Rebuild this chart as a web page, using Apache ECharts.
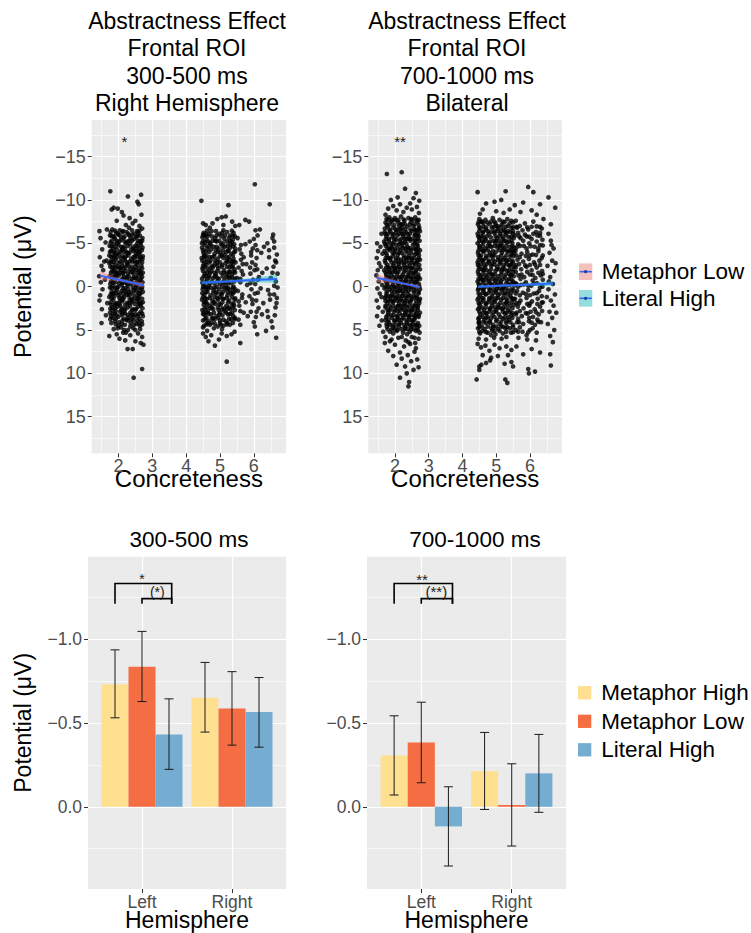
<!DOCTYPE html>
<html>
<head>
<meta charset="utf-8">
<script src="https://cdn.jsdelivr.net/npm/echarts@6/dist/echarts.min.js"></script>
<style>
html, body { margin: 0; background: #fff; }
#chart { width: 751px; height: 933px; }
</style>
</head>
<body>
<div id="chart"></div>
<script>
const FONT = '"Liberation Sans", Arial, Helvetica, sans-serif';

// axis ticks
const concreteTicks = [2, 3, 4, 5, 6];
const concreteMinor = [1.5, 2.5, 3.5, 4.5, 5.5, 6.5];
const potentialTicks = [-15, -10, -5, 0, 5, 10, 15];
const potentialMinor = [-17.5, -12.5, -7.5, -2.5, 2.5, 7.5, 12.5, 17.5];
const barTicks = [-1, -0.5, 0];
const barMinor = [-1.25, -0.75, -0.25, 0.25];
const hemispheres = ['Left', 'Right'];
const hemiPos = [1, 2];

const topTitles = ['Abstractness Effect\nFrontal ROI\n300-500 ms\nRight Hemisphere',
  'Abstractness Effect\nFrontal ROI\n700-1000 ms\nBilateral'];
const bottomTitles = ['300-500 ms', '700-1000 ms'];
const conditions = ['Metaphor High', 'Metaphor Low', 'Literal High'];
const barColors = ['#FEE090', '#F46D43', '#74ADD1'];
const fitLegend = ['Metaphor Low', 'Literal High'];

// single trials, 300-500 ms, right hemisphere
const earlyMetPts = [
[1.76,-11.0],[2.28,-10.4],[2.67,-10.6],[2.56,-9.8],[2.6,-9.5],[1.86,-9.1],[1.8,-8.9],[1.98,-9.0],[2.1,-8.6],[2.15,-8.2],[2.68,-8.3],[2.33,-7.9],[2.5,-7.6],[2.42,-7.3],[1.95,-7.6],[2.62,-7.0],[2.22,-7.1],
[1.44,-6.4],[1.47,-5.6],[1.52,-4.3],[1.45,-3.4],[1.5,-2.4],[1.55,-1.9],[1.43,-1.2],[1.48,-0.5],[1.53,0.3],[1.46,1.0],[1.44,1.6],[1.51,2.6],[1.5,4.2],[1.62,-5.1],[1.65,-3.0],[1.6,-0.8],[1.67,1.9],[1.63,3.3],[1.66,-6.6],[1.58,-2.9],
[1.82,-6.6],[2.04,-6.5],[2.31,-6.8],[2.55,-6.4],[2.7,-6.7],[1.93,-6.2],
[1.75,-5.9],[1.99,-6.1],[2.18,-5.8],[2.4,-6.0],[2.63,-5.9],[2.12,-6.3],
[1.8,-5.3],[1.9,-5.5],[2.07,-5.4],[2.27,-5.2],[2.46,-5.5],[2.58,-5.3],[2.71,-5.6],
[1.74,-4.7],[1.86,-4.9],[2.0,-4.8],[2.15,-4.6],[2.35,-4.9],[2.5,-4.7],[2.66,-4.8],[2.22,-5.0],
[1.78,-4.1],[1.95,-4.3],[2.09,-4.2],[2.24,-4.0],[2.38,-4.3],[2.54,-4.1],[2.69,-4.2],[1.88,-3.9],
[1.73,-3.6],[1.84,-3.5],[2.02,-3.7],[2.13,-3.5],[2.29,-3.6],[2.44,-3.4],[2.6,-3.7],[2.72,-3.5],
[1.79,-3.0],[1.92,-3.1],[2.05,-2.9],[2.19,-3.1],[2.33,-2.9],[2.48,-3.0],[2.64,-3.2],[2.7,-2.8],
[1.76,-2.3],[1.89,-2.5],[1.98,-2.3],[2.11,-2.4],[2.26,-2.6],[2.4,-2.3],[2.56,-2.5],[2.68,-2.4],
[1.81,-1.8],[1.94,-1.7],[2.08,-1.9],[2.21,-1.8],[2.36,-1.7],[2.51,-1.9],[2.62,-1.8],[2.72,-1.6],
[1.74,-1.2],[1.87,-1.1],[2.01,-1.3],[2.16,-1.1],[2.3,-1.2],[2.45,-1.0],[2.59,-1.3],[2.7,-1.1],
[1.78,-0.6],[1.91,-0.5],[2.06,-0.7],[2.2,-0.5],[2.34,-0.6],[2.49,-0.4],[2.63,-0.7],[2.71,-0.5],
[1.75,0.1],[1.85,-0.1],[2.0,0.0],[2.14,0.2],[2.28,-0.1],[2.42,0.1],[2.57,0.0],[2.69,0.2],
[1.8,0.6],[1.93,0.7],[2.09,0.5],[2.23,0.7],[2.37,0.6],[2.52,0.5],[2.65,0.8],[2.72,0.6],
[1.73,1.2],[1.88,1.1],[2.03,1.3],[2.17,1.2],[2.32,1.0],[2.47,1.3],[2.61,1.1],[2.7,1.4],
[1.77,1.8],[1.96,1.9],[2.1,1.7],[2.25,1.9],[2.39,1.8],[2.55,1.7],[2.67,1.9],
[1.82,2.4],[1.97,2.3],[2.12,2.5],[2.27,2.4],[2.43,2.6],[2.58,2.3],[2.71,2.5],
[1.75,3.0],[1.9,3.1],[2.05,2.9],[2.2,3.1],[2.35,3.0],[2.5,3.2],[2.66,2.9],
[1.84,3.6],[1.99,3.5],[2.16,3.7],[2.3,3.6],[2.46,3.5],[2.62,3.7],[2.72,3.4],
[1.79,4.2],[2.02,4.1],[2.19,4.4],[2.36,4.2],[2.53,4.3],[2.69,4.0],
[1.86,4.9],[2.08,4.7],[2.28,5.0],[2.44,4.8],[2.64,4.9],
[2.24,-6.3],[2.47,-6.1],[1.88,-5.7],[2.36,-5.6],[2.66,-5.1],[1.97,-5.0],[2.12,-4.4],[2.43,-4.5],[1.83,-4.4],[2.6,-4.4],[2.28,-3.9],[1.96,-3.8],[2.52,-3.8],[2.08,-3.3],[2.38,-3.2],[1.86,-3.3],[2.66,-3.4],[2.25,-2.8],[1.73,-2.7],[2.5,-2.7],[2.03,-2.1],[2.33,-2.0],[2.6,-2.1],[1.86,-2.0],[2.13,-1.5],[2.45,-1.4],[1.97,-1.5],[2.67,-1.4],[2.25,-0.9],[2.53,-0.9],[1.83,-0.9],[2.1,-0.2],[2.38,-0.3],[1.95,0.4],[2.63,0.4],[2.28,0.3],[2.15,0.9],[2.44,0.9],[1.82,0.9],[2.05,1.6],[2.33,1.5],[2.6,1.5],[1.9,2.1],[2.2,2.1],[2.48,2.0],[2.66,2.2],[2.08,2.7],[2.4,2.7],[1.83,2.7],[2.27,3.3],[2.57,3.4],[1.95,3.3],[2.12,3.9],[2.43,3.9],[2.63,4.5],[2.0,4.5],[2.22,5.3],[2.5,5.0],
[1.77,-6.3],[2.0,-6.0],[2.29,-6.1],[2.58,-6.2],[1.85,-5.8],[2.15,-5.6],[2.52,-5.7],[2.7,-5.3],[1.77,-5.1],[2.03,-5.2],[2.32,-5.3],[2.56,-5.0],[1.91,-4.6],[2.19,-4.4],[2.47,-4.3],[2.71,-4.5],[1.75,-4.0],[2.05,-4.0],[2.33,-3.9],[2.63,-3.9],[1.9,-3.6],[2.18,-3.3],[2.49,-3.5],[2.71,-3.2],[1.78,-2.8],[2.0,-2.7],[2.3,-2.4],[2.62,-2.9],[1.92,-2.2],[2.17,-2.1],[2.44,-2.0],[2.7,-2.1],[1.78,-1.6],[2.04,-1.6],[2.28,-1.5],[2.56,-1.6],[1.89,-1.3],[2.12,-0.9],[2.39,-0.9],[2.66,-0.9],[1.76,-0.3],[2.02,-0.4],[2.26,-0.3],[2.52,-0.2],[1.9,0.2],[2.17,0.5],[2.46,0.4],[2.7,0.0],[1.77,0.9],[2.0,1.0],[2.27,1.0],[2.56,1.0],[1.85,1.5],[2.14,1.5],[2.42,1.6],[2.72,1.8],[1.78,2.1],[2.05,2.2],[2.34,2.2],[2.62,2.0],[1.92,2.8],[2.17,2.8],[2.5,2.7],[2.7,3.1],[1.78,3.4],[2.09,3.3],[2.38,3.3],[2.55,3.9],[1.9,4.0],[2.27,3.9],[2.6,4.2],[1.98,4.8],[2.35,4.6],[2.17,5.0],
[1.9,-6.45],[2.14,-6.4],[2.4,-6.5],[2.62,-6.45],[1.8,-5.85],[2.06,-5.8],[2.32,-5.9],[2.56,-5.85],[1.95,-5.25],[2.18,-5.2],[2.4,-5.3],[2.64,-5.25],[1.8,-4.65],[2.08,-4.6],[2.28,-4.7],[2.56,-4.65],[1.86,-4.05],[2.16,-4.0],[2.44,-4.1],[2.6,-4.05],[1.78,-3.45],[1.96,-3.4],[2.22,-3.5],[2.54,-3.45],[1.86,-2.85],[2.12,-2.8],[2.4,-2.9],[2.56,-2.85],[1.82,-2.25],[2.06,-2.2],[2.2,-2.3],[2.5,-2.25],[1.88,-1.65],[2.14,-1.6],[2.42,-1.7],[2.66,-1.65],[1.8,-1.05],[1.94,-1.0],[2.24,-1.1],[2.52,-1.05],[1.84,-0.45],[2.12,-0.4],[2.4,-0.5],[2.58,-0.45],[1.8,0.15],[1.96,0.1],[2.2,0.2],[2.5,0.15],[1.86,0.75],[2.04,0.8],[2.3,0.7],[2.6,0.75],[1.8,1.35],[2.1,1.3],[2.38,1.4],[2.56,1.35],[1.9,1.95],[2.02,2.0],[2.32,1.9],[2.62,1.95],[1.76,2.55],[1.9,2.5],[2.2,2.6],[2.52,2.55],[1.84,3.15],[2.12,3.1],[2.42,3.2],[2.6,3.15],[1.76,3.75],[1.92,3.7],[2.24,3.8],[2.38,3.75],[1.92,4.35],[2.1,4.3],[2.46,4.4],[2.7,4.35],
[1.73,5.7],[1.95,5.5],[2.14,5.3],[2.35,5.6],[2.58,5.4],[2.7,5.8],[2.27,7.2],[2.42,7.2],[2.74,6.7],[2.2,6.2],[2.5,6.3],[2.66,6.5],[2.7,9.5],[2.45,10.5],[2.03,6.0]
];
const earlyLitPts = [
[4.45,-9.9],[5.25,-9.4],[6.03,-11.8],[6.47,-9.5],[5.05,-8.0],[5.17,-8.1],[4.92,-7.8],[5.36,-7.5],[5.75,-7.7],[5.86,-7.5],[5.57,-7.1],[6.05,-6.5],[6.18,-6.6],[4.5,-7.3],[4.58,-7.1],[4.78,-7.3],[5.1,-7.1],[5.45,-7.0],[4.7,-6.8],[6.55,-5.6],[6.6,-5.2],
[4.52,-6.2],[4.75,-6.4],[4.98,-6.1],[5.21,-6.3],[5.4,-6.2],
[4.48,-5.7],[4.63,-5.8],[4.86,-5.6],[5.04,-5.8],[5.27,-5.6],[5.44,-5.8],
[4.55,-5.1],[4.7,-5.0],[4.9,-5.2],[5.08,-5.0],[5.2,-5.2],[5.35,-5.1],
[4.47,-4.5],[4.62,-4.4],[4.81,-4.6],[4.96,-4.4],[5.14,-4.6],[5.3,-4.5],[5.45,-4.4],
[4.51,-3.9],[4.68,-4.0],[4.84,-3.8],[5.01,-3.9],[5.18,-4.0],[5.33,-3.8],[5.42,-4.0],
[4.46,-3.3],[4.6,-3.2],[4.77,-3.4],[4.93,-3.2],[5.1,-3.3],[5.26,-3.4],[5.4,-3.2],
[4.53,-2.7],[4.69,-2.8],[4.85,-2.6],[5.0,-2.8],[5.16,-2.7],[5.31,-2.6],[5.46,-2.8],
[4.48,-2.1],[4.64,-2.0],[4.79,-2.2],[4.95,-2.1],[5.12,-1.9],[5.28,-2.2],[5.43,-2.0],
[4.55,-1.5],[4.71,-1.6],[4.88,-1.4],[5.03,-1.6],[5.2,-1.5],[5.36,-1.4],
[4.47,-0.9],[4.62,-0.8],[4.8,-1.0],[4.97,-0.9],[5.13,-0.8],[5.29,-1.0],[5.44,-0.9],
[4.52,-0.3],[4.67,-0.2],[4.83,-0.4],[5.0,-0.3],[5.17,-0.2],[5.33,-0.4],
[4.49,0.3],[4.65,0.2],[4.81,0.4],[4.98,0.3],[5.14,0.2],[5.3,0.4],[5.45,0.3],
[4.54,0.9],[4.72,1.0],[4.89,0.8],[5.05,0.9],[5.22,1.0],[5.38,0.8],
[4.47,1.5],[4.61,1.4],[4.78,1.6],[4.94,1.5],[5.11,1.4],[5.27,1.6],[5.43,1.5],
[4.52,2.1],[4.69,2.2],[4.86,2.0],[5.02,2.1],[5.19,2.2],[5.35,2.0],
[4.48,2.7],[4.64,2.8],[4.8,2.6],[4.96,2.7],[5.13,2.8],[5.3,2.6],[5.44,2.7],
[4.55,3.3],[4.73,3.2],[4.9,3.4],[5.07,3.3],[5.24,3.2],[5.39,3.4],
[4.5,3.9],[4.66,4.0],[4.84,3.8],[5.0,3.9],[5.17,4.0],[5.33,3.8],
[4.53,4.5],[4.7,4.4],[4.93,4.6],[5.1,4.5],[5.29,4.4],
[4.58,-6.0],[4.9,-5.9],[5.13,-5.5],[4.78,-5.3],[5.3,-4.9],[4.55,-4.8],[4.88,-4.2],[5.24,-4.2],[4.6,-3.6],[5.05,-3.6],[4.72,-3.0],[5.2,-3.0],[4.5,-2.4],[4.92,-2.4],[5.38,-2.4],[4.75,-1.8],[5.08,-1.2],[4.58,-1.2],[5.4,-1.7],[4.92,-0.6],[5.25,-0.6],[4.56,0.0],[4.9,0.0],[5.22,0.6],[4.63,0.6],[5.35,1.2],[4.84,1.2],[4.58,1.8],[5.07,1.8],[4.76,2.4],[5.26,2.4],[4.6,3.0],[5.0,3.0],[5.36,3.0],[4.8,3.6],[4.63,4.2],[5.22,4.2],[5.06,4.9],
[4.5,-6.0],[4.68,-6.1],[5.07,-6.2],[5.3,-5.9],[4.6,-5.4],[4.98,-5.3],[5.38,-5.4],[4.47,-5.0],[4.73,-4.8],[5.03,-4.9],[5.22,-4.7],[5.42,-4.9],[4.5,-4.2],[4.74,-4.3],[5.08,-4.2],[5.38,-3.6],[4.53,-3.6],[4.83,-3.5],[5.12,-3.7],[5.3,-3.1],[4.48,-3.0],[4.86,-3.0],[5.06,-2.5],[5.4,-2.9],[4.6,-2.5],[4.78,-2.4],[5.2,-2.3],[4.92,-1.8],[4.5,-1.8],[4.68,-1.3],[5.12,-1.6],[5.3,-1.7],[4.52,-1.2],[4.85,-1.2],[5.25,-1.2],[5.42,-0.6],[4.58,-0.6],[4.76,-0.6],[5.08,-0.5],[5.4,0.0],[4.5,0.0],[4.73,0.1],[5.06,0.0],[5.24,0.1],[4.58,0.6],[4.9,0.6],[5.09,0.6],[5.42,0.6],[4.5,1.2],[4.7,1.3],[5.0,1.2],[5.2,1.3],[4.53,1.8],[4.83,1.8],[5.24,1.8],[5.42,2.2],[4.6,2.4],[4.94,2.4],[5.12,2.5],[5.37,2.4],[4.52,3.0],[4.82,3.0],[5.18,3.0],[5.44,3.6],[4.6,3.6],[4.95,3.6],[5.27,3.7],[4.75,4.2],[5.0,4.2],[5.38,4.2],[4.5,4.7],[4.82,4.8],
[4.62,-6.45],[4.88,-6.4],[5.1,-6.5],[5.35,-6.45],[4.55,-5.85],[4.76,-5.8],[5.15,-5.9],[5.38,-5.85],[4.5,-5.25],[4.66,-5.2],[4.86,-5.3],[5.3,-5.25],[4.66,-4.65],[4.9,-4.6],[5.08,-4.7],[5.38,-4.65],[4.58,-4.05],[4.94,-4.0],[5.25,-4.1],[5.45,-4.05],[4.54,-3.45],[4.7,-3.4],[5.0,-3.5],[5.2,-3.45],[4.6,-2.85],[4.92,-2.8],[5.22,-2.9],[5.36,-2.85],[4.55,-2.25],[4.72,-2.2],[5.05,-2.3],[5.35,-2.25],[4.62,-1.65],[4.84,-1.6],[5.26,-1.7],[5.45,-1.65],[4.68,-1.05],[4.92,-1.0],[5.2,-1.1],[5.36,-1.05],[4.48,-0.45],[4.7,-0.4],[5.12,-0.5],[5.25,-0.45],[4.6,0.15],[4.84,0.1],[5.2,0.2],[5.38,0.15],[4.48,0.75],[4.8,0.7],[5.02,0.8],[5.32,0.75],[4.56,1.35],[4.92,1.3],[5.08,1.4],[5.45,1.35],[4.62,1.95],[4.78,1.9],[4.98,2.0],[5.4,1.95],[4.55,2.55],[4.72,2.5],[5.06,2.6],[5.22,2.55],[4.5,3.15],[4.66,3.1],[4.98,3.2],[5.3,3.15],[4.56,3.75],[4.76,3.7],[5.1,3.8],[5.44,3.75],[4.6,4.35],[4.85,4.3],[5.02,4.4],[5.2,4.35],
[5.52,-5.6],[5.58,-4.3],[5.62,-3.1],[5.55,-2.2],[5.68,-1.4],[5.6,-0.5],[5.53,0.5],[5.65,1.3],[5.57,2.2],[5.7,3.0],[5.55,3.8],[5.63,-3.8],[5.5,-1.0],[5.6,4.4],
[5.62,-4.8],[5.67,-2.6],[5.6,-0.9],[5.66,0.9],[5.6,2.8],[5.64,-1.8],[5.55,1.7],[5.7,-3.4],
[5.75,-4.9],[5.78,-2.6],[5.8,-0.2],[5.76,1.8],[5.82,3.4],
[5.88,-5.2],[5.92,-3.6],[5.95,-2.8],[5.9,-1.5],[5.98,-0.8],[5.93,0.3],[5.87,1.1],[5.96,2.0],[5.91,2.9],[6.0,4.1],[5.97,-4.4],[6.02,-1.9],
[5.92,-4.0],[5.9,-0.4],[5.95,1.5],[5.89,-2.2],[6.05,-2.5],[6.1,-4.2],[6.03,0.8],[6.08,2.9],[6.12,-0.8],[6.0,-5.5],
[6.05,-4.8],[6.08,-3.3],[6.1,-2.0],[6.04,-0.3],[6.12,0.7],[6.07,1.6],[6.14,2.5],[6.06,3.5],[6.1,5.5],[6.11,-5.9],[6.15,-1.1],[6.03,4.6],
[6.22,-3.9],[6.25,-1.6],[6.2,0.2],[6.28,1.9],[6.24,3.2],[6.3,-4.6],
[6.4,-5.0],[6.45,-3.4],[6.38,-2.1],[6.5,-1.0],[6.42,0.4],[6.48,1.5],[6.4,2.8],[6.52,4.0],[6.36,5.1],[6.6,-4.5],[6.63,-3.0],[6.58,-2.3],[6.65,-0.6],[6.6,0.9],[6.67,1.9],[6.62,3.3],[6.55,4.7],[6.66,5.9],[6.7,-1.5],[6.68,-3.7],[6.57,-6.0],[6.64,2.4],[6.7,0.1],
[6.45,-4.2],[6.55,-1.6],[6.47,0.9],[6.42,3.5],[6.6,-0.1],[6.68,1.3],[6.66,-2.8],
[4.5,5.4],[4.58,5.8],[4.74,5.6],[4.85,6.8],[4.97,6.1],[5.05,5.4],[5.2,5.7],[5.34,5.5],[5.6,6.5],[5.2,8.65],[4.66,6.3],[5.43,5.2],[4.62,5.1]
];

// single trials, 700-1000 ms, bilateral
const lateMetPts = [
[1.76,-13.0],[2.2,-13.2],[2.3,-11.3],[2.08,-10.3],[2.55,-10.2],[2.62,-10.8],[1.88,-10.0],[2.45,-9.6],[2.72,-9.9],[1.95,-9.3],[2.15,-9.5],[2.35,-9.1],[2.65,-9.2],[1.8,-9.0],[2.05,-8.8],[2.5,-8.9],[2.25,-8.6],[1.72,-8.3],[2.71,-8.5],
[1.47,-5.0],[1.5,-4.1],[1.46,-3.3],[1.53,-2.7],[1.49,-1.9],[1.45,-1.3],[1.52,-0.6],[1.48,0.2],[1.55,0.8],[1.46,1.6],[1.51,2.4],[1.47,3.4],[1.54,4.5],[1.6,-6.1],[1.63,-3.8],[1.58,-2.3],[1.62,-0.2],[1.6,1.2],[1.64,2.9],[1.57,-4.6],[1.61,3.9],[1.65,5.2],
[1.83,-8.0],[2.0,-7.9],[2.18,-8.1],[2.4,-7.9],[2.6,-8.0],
[1.72,-7.4],[1.9,-7.5],[2.1,-7.4],[2.28,-7.6],[2.47,-7.4],[2.67,-7.5],
[1.78,-6.9],[1.95,-6.8],[2.12,-7.0],[2.22,-6.8],[2.36,-6.9],[2.55,-7.0],[2.72,-6.8],
[1.7,-6.3],[1.86,-6.4],[2.03,-6.3],[2.19,-6.4],[2.33,-6.3],[2.5,-6.4],[2.63,-6.3],[2.74,-6.4],
[1.75,-5.8],[1.92,-5.7],[2.07,-5.9],[2.25,-5.8],[2.41,-5.7],[2.58,-5.9],[2.7,-5.8],
[1.68,-5.2],[1.82,-5.3],[1.98,-5.2],[2.14,-5.3],[2.3,-5.2],[2.46,-5.3],[2.61,-5.2],[2.73,-5.3],
[1.73,-4.7],[1.89,-4.6],[2.04,-4.8],[2.2,-4.7],[2.37,-4.6],[2.53,-4.8],[2.67,-4.7],
[1.69,-4.1],[1.84,-4.2],[2.0,-4.1],[2.16,-4.2],[2.32,-4.1],[2.48,-4.2],[2.63,-4.1],[2.74,-4.2],
[1.76,-3.6],[1.93,-3.5],[2.09,-3.7],[2.26,-3.6],[2.42,-3.5],[2.58,-3.7],[2.71,-3.6],
[1.7,-3.0],[1.86,-3.1],[2.02,-3.0],[2.18,-3.1],[2.34,-3.0],[2.5,-3.1],[2.65,-3.0],[2.74,-3.1],
[1.78,-2.5],[1.95,-2.4],[2.11,-2.6],[2.28,-2.5],[2.44,-2.4],[2.6,-2.6],[2.72,-2.5],
[1.68,-1.9],[1.83,-2.0],[1.99,-1.9],[2.15,-2.0],[2.31,-1.9],[2.47,-2.0],[2.62,-1.9],[2.74,-2.0],
[1.74,-1.4],[1.9,-1.3],[2.06,-1.5],[2.23,-1.4],[2.39,-1.3],[2.55,-1.5],[2.69,-1.4],
[1.7,-0.8],[1.85,-0.9],[2.01,-0.8],[2.17,-0.9],[2.33,-0.8],[2.49,-0.9],[2.64,-0.8],[2.74,-0.9],
[1.77,-0.3],[1.94,-0.2],[2.1,-0.4],[2.27,-0.3],[2.43,-0.2],[2.59,-0.4],[2.71,-0.3],
[1.69,0.2],[1.84,0.3],[2.0,0.2],[2.16,0.3],[2.32,0.2],[2.48,0.3],[2.63,0.2],[2.74,0.3],
[1.75,0.8],[1.91,0.9],[2.07,0.7],[2.24,0.8],[2.4,0.9],[2.56,0.7],[2.7,0.8],
[1.7,1.3],[1.86,1.4],[2.02,1.3],[2.18,1.4],[2.34,1.3],[2.5,1.4],[2.65,1.3],[2.74,1.4],
[1.78,1.9],[1.95,1.8],[2.12,2.0],[2.29,1.9],[2.45,1.8],[2.61,2.0],[2.72,1.9],
[1.72,2.4],[1.88,2.5],[2.04,2.4],[2.2,2.5],[2.36,2.4],[2.52,2.5],[2.67,2.4],
[1.8,3.0],[1.97,2.9],[2.14,3.1],[2.31,3.0],[2.47,2.9],[2.63,3.1],[2.74,3.0],
[1.74,3.5],[1.91,3.6],[2.08,3.5],[2.25,3.6],[2.42,3.5],[2.58,3.6],[2.7,3.5],
[1.82,4.1],[2.0,4.0],[2.17,4.2],[2.35,4.1],[2.53,4.0],[2.68,4.2],
[1.76,4.6],[1.94,4.7],[2.12,4.6],[2.3,4.7],[2.48,4.6],[2.66,4.7],
[1.85,5.2],[2.05,5.1],[2.24,5.3],[2.44,5.2],[2.62,5.1],[2.73,5.3],
[1.92,-7.7],[2.3,-7.2],[2.58,-6.6],[1.8,-6.1],[2.12,-6.1],[2.44,-6.1],[1.98,-5.5],[2.35,-5.5],[2.67,-5.5],[1.77,-4.9],[2.12,-4.9],[2.45,-4.4],[1.92,-4.4],[2.68,-4.4],[2.2,-3.9],[1.8,-3.3],[2.4,-3.3],[2.1,-2.8],[2.66,-2.8],[1.9,-2.2],[2.23,-2.2],[2.55,-2.2],[1.8,-1.7],[2.1,-1.7],[2.47,-1.6],[1.97,-1.1],[2.3,-1.1],[2.63,-1.1],[1.8,-0.6],[2.15,-0.5],[2.5,-0.6],[1.9,0.0],[2.24,0.0],[2.57,0.0],[2.08,0.5],[2.4,0.5],[1.8,1.1],[2.14,1.1],[2.47,1.1],[1.96,1.6],[2.3,1.6],[2.62,1.6],[1.84,2.2],[2.16,2.2],[2.53,2.2],[2.0,2.7],[2.33,2.8],[2.68,2.7],[1.88,3.3],[2.22,3.3],[2.56,3.3],[2.06,3.8],[2.42,3.8],[1.75,4.3],[2.27,4.4],[2.6,4.4],[2.0,4.9],[2.38,4.9],
[1.75,-7.8],[2.1,-7.7],[2.48,-7.8],[2.7,-7.7],[1.85,-7.2],[2.17,-7.2],[2.58,-7.2],[1.7,-6.7],[2.02,-6.6],[2.3,-6.6],[2.7,-6.6],[1.92,-6.1],[2.27,-6.1],[2.6,-6.0],[1.73,-5.5],[2.18,-5.5],[2.5,-5.5],[1.89,-5.0],[2.25,-5.0],[2.58,-5.0],[1.78,-4.4],[2.1,-4.4],[2.3,-4.4],[2.57,-4.4],[1.93,-3.9],[2.38,-3.9],[2.7,-3.9],[1.73,-3.3],[2.03,-3.3],[2.27,-3.3],[2.58,-3.3],[1.9,-2.8],[2.28,-2.8],[2.48,-2.8],[1.74,-2.2],[2.05,-2.2],[2.38,-2.2],[2.68,-2.2],[1.93,-1.7],[2.27,-1.7],[2.62,-1.7],[1.75,-1.1],[2.13,-1.1],[2.47,-1.1],[2.7,-1.1],[1.92,-0.6],[2.3,-0.6],[2.65,-0.6],[1.73,0.0],[2.07,0.0],[2.4,0.0],[2.72,0.0],[1.9,0.5],[2.23,0.5],[2.58,0.5],[1.73,1.1],[1.97,1.1],[2.3,1.1],[2.63,1.1],[1.8,1.6],[2.13,1.6],[2.47,1.6],[2.72,1.6],[1.95,2.2],[2.3,2.2],[2.68,2.2],[1.78,2.7],[2.15,2.7],[2.5,2.7],[1.96,3.3],[2.38,3.3],[2.7,3.3],[1.8,3.8],[2.2,3.8],[2.58,3.8],[1.93,4.4],[2.12,4.3],[2.44,4.4],[2.72,4.5],[1.78,4.9],[2.2,4.9],[2.55,4.9],[1.95,5.4],[2.36,5.5],
[1.8,-7.7],[2.02,-7.65],[2.26,-7.75],[2.52,-7.7],[2.64,-7.65],[1.76,-7.15],[1.98,-7.1],[2.22,-7.2],[2.44,-7.15],[2.7,-7.1],[1.84,-6.6],[2.08,-6.55],[2.16,-6.65],[2.46,-6.6],[2.62,-6.55],[1.72,-6.05],[1.96,-6.0],[2.2,-6.1],[2.38,-6.05],[2.68,-6.0],[1.82,-5.5],[2.04,-5.45],[2.28,-5.55],[2.42,-5.5],[2.6,-5.45],[1.7,-4.95],[1.94,-4.9],[2.18,-5.0],[2.34,-4.95],[2.66,-4.9],[1.84,-4.4],[2.0,-4.35],[2.24,-4.45],[2.4,-4.4],[2.62,-4.35],[1.74,-3.85],[1.98,-3.8],[2.12,-3.9],[2.48,-3.85],[2.64,-3.8],[1.86,-3.3],[2.1,-3.25],[2.34,-3.35],[2.5,-3.3],[2.7,-3.25],[1.72,-2.75],[1.98,-2.7],[2.2,-2.8],[2.4,-2.75],[2.56,-2.7],[1.8,-2.2],[2.0,-2.15],[2.12,-2.25],[2.32,-2.2],[2.5,-2.15],[1.72,-1.65],[1.86,-1.6],[2.02,-1.7],[2.4,-1.65],[2.56,-1.6],[1.82,-1.1],[2.05,-1.05],[2.2,-1.15],[2.38,-1.1],[2.56,-1.05],[1.74,-0.55],[2.04,-0.5],[2.22,-0.6],[2.4,-0.55],[2.58,-0.5],[1.8,0.0],[1.98,0.05],[2.14,-0.05],[2.32,0.0],[2.48,0.05],[1.76,0.55],[1.98,0.6],[2.14,0.5],[2.32,0.55],[2.7,0.6],[1.88,1.1],[2.06,1.15],[2.22,1.05],[2.4,1.1],[2.56,1.15],[1.72,1.65],[1.9,1.7],[2.06,1.6],[2.22,1.65],[2.38,1.7],[1.72,2.2],[2.08,2.25],[2.24,2.15],[2.42,2.2],[2.6,2.25],[1.84,2.75],[2.08,2.8],[2.26,2.7],[2.42,2.75],[2.6,2.8],[1.78,3.3],[2.06,3.35],[2.3,3.25],[2.46,3.3],[2.62,3.35],[1.72,3.85],[1.98,3.9],[2.12,3.8],[2.34,3.85],[2.5,3.9],[1.84,4.4],[2.02,4.45],[2.36,4.35],[2.52,4.4],[2.64,4.45],[1.9,4.95],[2.08,5.0],[2.3,4.9],[2.48,4.95],[2.68,5.0],
[1.72,5.8],[1.9,6.1],[2.1,5.9],[2.32,6.2],[2.5,5.8],[2.7,6.0],[2.0,6.7],[2.27,6.9],[2.45,6.6],[2.62,7.1],[1.8,7.4],[2.15,7.6],[2.38,7.9],[2.58,7.5],[2.2,8.3],[2.48,8.6],[2.66,8.4],[2.05,9.0],[2.3,9.2],[2.55,9.6],[2.35,10.0],[2.15,10.5],[2.42,11.0],[2.4,11.5],[2.7,9.3],[1.95,8.0],[1.7,6.5],[2.6,6.5],[2.2,5.8],[2.58,5.9],[1.85,6.3],[2.4,6.4]
];
const lateLitPts = [
[4.45,-10.9],[5.28,-11.0],[5.95,-11.5],[6.1,-10.9],[6.55,-10.3],[6.75,-9.1],[4.7,-9.6],[4.95,-9.8],[5.15,-10.0],[5.55,-9.4],[5.8,-9.7],[6.3,-9.5],[4.6,-8.9],[5.0,-8.7],[5.4,-8.9],[5.72,-8.6],[6.05,-8.8],[6.2,-8.3],[4.52,-8.4],[5.22,-8.5],[6.4,-7.8],[6.62,-7.2],
[4.5,-7.8],[4.68,-7.7],[4.9,-7.9],[5.1,-7.7],[5.33,-7.8],
[4.46,-7.2],[4.62,-7.3],[4.8,-7.2],[4.98,-7.3],[5.17,-7.2],[5.4,-7.3],
[4.52,-6.7],[4.7,-6.6],[4.87,-6.8],[5.05,-6.7],[5.23,-6.6],[5.45,-6.8],
[4.45,-6.1],[4.6,-6.2],[4.78,-6.1],[4.95,-6.2],[5.12,-6.1],[5.3,-6.2],[5.5,-6.1],
[4.5,-5.6],[4.67,-5.5],[4.84,-5.7],[5.02,-5.6],[5.2,-5.5],[5.38,-5.7],[5.52,-5.6],
[4.45,-5.0],[4.62,-5.1],[4.79,-5.0],[4.97,-5.1],[5.14,-5.0],[5.32,-5.1],[5.48,-5.0],
[4.51,-4.5],[4.69,-4.4],[4.86,-4.6],[5.04,-4.5],[5.22,-4.4],[5.4,-4.6],[5.53,-4.5],
[4.46,-3.9],[4.63,-4.0],[4.81,-3.9],[4.99,-4.0],[5.17,-3.9],[5.34,-4.0],[5.5,-3.9],
[4.52,-3.4],[4.7,-3.3],[4.88,-3.5],[5.06,-3.4],[5.24,-3.3],[5.42,-3.5],
[4.45,-2.8],[4.61,-2.9],[4.78,-2.8],[4.96,-2.9],[5.13,-2.8],[5.31,-2.9],[5.49,-2.8],
[4.5,-2.3],[4.67,-2.2],[4.85,-2.4],[5.03,-2.3],[5.21,-2.2],[5.39,-2.4],[5.53,-2.3],
[4.46,-1.7],[4.63,-1.8],[4.8,-1.7],[4.98,-1.8],[5.16,-1.7],[5.33,-1.8],[5.5,-1.7],
[4.53,-1.2],[4.71,-1.1],[4.89,-1.3],[5.07,-1.2],[5.25,-1.1],[5.43,-1.3],
[4.45,-0.6],[4.61,-0.7],[4.79,-0.6],[4.97,-0.7],[5.14,-0.6],[5.32,-0.7],[5.5,-0.6],
[4.5,-0.1],[4.68,0.0],[4.86,-0.2],[5.04,-0.1],[5.22,0.0],[5.4,-0.2],[5.53,-0.1],
[4.46,0.4],[4.63,0.5],[4.81,0.4],[4.99,0.5],[5.17,0.4],[5.35,0.5],[5.51,0.4],
[4.52,1.0],[4.7,0.9],[4.88,1.1],[5.06,1.0],[5.24,0.9],[5.42,1.1],
[4.45,1.5],[4.62,1.6],[4.79,1.5],[4.97,1.6],[5.15,1.5],[5.33,1.6],[5.5,1.5],
[4.51,2.1],[4.69,2.0],[4.87,2.2],[5.05,2.1],[5.23,2.0],[5.41,2.2],[5.53,2.1],
[4.46,2.6],[4.64,2.7],[4.82,2.6],[5.0,2.7],[5.18,2.6],[5.36,2.7],
[4.53,3.2],[4.71,3.1],[4.89,3.3],[5.08,3.2],[5.26,3.1],[5.45,3.3],
[4.47,3.7],[4.65,3.8],[4.84,3.7],[5.02,3.8],[5.2,3.7],[5.38,3.8],
[4.5,4.3],[4.7,4.2],[4.9,4.4],[5.1,4.3],[5.3,4.2],[5.5,4.4],
[4.46,4.8],[4.66,4.9],[4.86,4.8],[5.06,4.9],[5.27,4.8],
[4.52,5.4],[4.75,5.3],[4.98,5.5],[5.2,5.4],[5.44,5.3],
[4.48,6.0],[4.7,6.1],[4.94,5.9],[5.16,6.0],
[4.58,-7.5],[5.0,-7.0],[4.75,-6.4],[5.35,-6.4],[4.55,-5.8],[4.92,-5.3],[5.28,-5.3],[4.75,-4.7],[5.12,-4.7],[4.58,-4.2],[5.45,-4.2],[4.95,-3.6],[4.62,-3.1],[5.2,-3.1],[4.88,-2.6],[5.45,-2.6],[4.57,-2.0],[5.1,-2.0],[4.78,-1.4],[5.38,-1.5],[4.6,-0.9],[5.0,-0.9],[4.82,-0.4],[5.3,-0.4],[4.57,0.2],[5.1,0.2],[4.78,0.7],[5.45,0.7],[4.58,1.3],[5.0,1.3],[4.76,1.8],[5.3,1.8],[4.58,2.4],[5.1,2.4],[4.8,2.9],[5.4,2.9],[4.6,3.5],[5.12,3.5],[4.8,4.0],[4.58,4.6],[5.15,4.6],[4.88,5.1],
[4.55,-7.5],[4.85,-7.5],[5.2,-7.5],[5.45,-7.6],[4.62,-6.9],[4.92,-6.9],[5.15,-6.9],[5.35,-7.0],[4.5,-6.4],[4.95,-6.4],[5.15,-6.4],[5.5,-6.4],[4.72,-5.8],[5.1,-5.8],[5.3,-5.9],[4.5,-5.3],[4.7,-5.3],[5.08,-5.3],[5.45,-5.3],[4.6,-4.7],[4.95,-4.7],[5.3,-4.7],[4.48,-4.2],[4.75,-4.2],[5.1,-4.2],[5.3,-4.2],[4.55,-3.6],[4.8,-3.6],[5.15,-3.6],[5.45,-3.7],[4.48,-3.1],[4.9,-3.1],[5.05,-3.1],[5.38,-3.1],[4.55,-2.6],[4.72,-2.6],[5.1,-2.6],[5.3,-2.6],[4.48,-2.0],[4.85,-2.0],[5.25,-2.0],[5.48,-2.0],[4.58,-1.4],[4.97,-1.4],[5.15,-1.4],[5.52,-1.2],[4.48,-0.9],[4.8,-0.9],[5.2,-0.9],[5.38,-0.9],[4.6,-0.4],[5.05,-0.4],[5.48,-0.4],[4.48,0.2],[4.8,0.2],[5.3,0.2],[4.6,0.7],[5.0,0.7],[5.25,0.7],[4.48,1.3],[4.8,1.3],[5.2,1.3],[5.45,1.3],[4.55,1.8],[4.95,1.8],[5.45,1.8],[4.7,2.4],[4.95,2.4],[5.3,2.4],[4.5,2.9],[5.0,2.9],[5.2,2.9],[4.75,3.5],[5.35,3.5],[4.5,4.0],[5.0,4.0],[5.3,4.0],[4.75,4.6],[5.0,4.6],[5.4,4.8],[4.6,5.1],[5.1,5.1],[4.85,5.6],[5.3,5.8],
[4.48,-7.45],[4.74,-7.4],[4.95,-7.5],[5.25,-7.45],[5.5,-7.4],[4.5,-6.9],[4.7,-6.85],[5.05,-6.95],[5.28,-6.9],[5.5,-6.85],[4.62,-6.35],[4.85,-6.3],[5.05,-6.4],[5.25,-6.35],[5.42,-6.3],[4.47,-5.8],[4.62,-5.75],[4.98,-5.85],[5.2,-5.8],[5.45,-5.75],[4.58,-5.25],[4.82,-5.2],[5.0,-5.3],[5.22,-5.25],[5.38,-5.2],[4.5,-4.7],[4.82,-4.65],[5.05,-4.75],[5.18,-4.7],[5.48,-4.65],[4.62,-4.15],[4.9,-4.1],[5.2,-4.2],[5.4,-4.15],[5.52,-4.1],[4.48,-3.6],[4.7,-3.55],[4.9,-3.65],[5.3,-3.6],[5.52,-3.55],[4.58,-3.05],[4.78,-3.0],[5.12,-3.1],[5.3,-3.05],[5.48,-3.0],[4.46,-2.5],[4.65,-2.45],[4.95,-2.55],[5.22,-2.5],[5.4,-2.45],[4.62,-1.95],[4.72,-1.9],[5.02,-2.0],[5.18,-1.95],[5.38,-1.9],[4.48,-1.4],[4.68,-1.35],[4.88,-1.45],[5.28,-1.4],[5.45,-1.35],[4.55,-0.85],[4.7,-0.8],[4.9,-0.9],[5.1,-0.85],[5.45,-0.8],[4.48,-0.3],[4.7,-0.25],[4.95,-0.35],[5.15,-0.3],[5.38,-0.25],[4.62,0.25],[4.92,0.3],[5.02,0.2],[5.2,0.25],[5.45,0.3],[4.48,0.8],[4.68,0.85],[4.9,0.75],[5.12,0.8],[5.35,0.85],[4.62,1.35],[4.88,1.4],[5.05,1.3],[5.3,1.35],[5.52,1.4],[4.48,1.9],[4.7,1.95],[4.88,1.85],[5.12,1.9],[5.32,1.95],[4.5,2.45],[4.82,2.5],[5.05,2.4],[5.2,2.45],[5.48,2.5],[4.62,3.0],[4.7,3.05],[4.92,2.95],[5.3,3.0],[5.48,3.05],[4.5,3.55],[4.7,3.6],[4.95,3.5],[5.25,3.55],[5.48,3.6],[4.62,4.1],[4.82,4.15],[5.15,4.05],[5.42,4.1],[4.48,4.15],[4.5,4.65],[4.92,4.7],[5.2,4.6],[5.32,4.65],[5.5,4.7],[4.5,5.2],[4.7,5.25],[4.95,5.15],[5.3,5.2],[5.5,5.25],
[5.58,-7.6],[5.85,-7.3],[6.1,-7.5],[6.3,-6.9],
[5.62,-6.8],[5.78,-6.5],[5.95,-6.6],[6.18,-6.3],[6.35,-6.7],
[5.56,-5.9],[5.72,-5.6],[5.9,-5.8],[6.05,-5.5],[6.22,-5.9],[6.37,-5.4],
[5.65,-4.9],[5.82,-4.7],[5.98,-5.0],[6.14,-4.6],[6.3,-4.8],
[5.57,-4.1],[5.75,-3.8],[5.92,-4.0],[6.08,-3.7],[6.25,-4.1],[6.38,-3.6],
[5.63,-3.1],[5.8,-2.9],[5.97,-3.2],[6.12,-2.8],[6.28,-3.0],
[5.58,-2.2],[5.74,-2.0],[5.9,-2.3],[6.05,-1.9],[6.2,-2.2],[6.36,-1.8],
[5.66,-1.3],[5.83,-1.1],[6.0,-1.4],[6.16,-1.0],[6.32,-1.3],
[5.57,-0.4],[5.73,-0.2],[5.88,-0.5],[6.04,-0.1],[6.21,-0.4],[6.37,0.0],
[5.62,0.5],[5.79,0.7],[5.95,0.4],[6.11,0.8],[6.27,0.5],
[5.56,1.4],[5.72,1.6],[5.9,1.3],[6.06,1.7],[6.23,1.4],[6.38,1.8],
[5.64,2.3],[5.81,2.5],[5.98,2.2],[6.14,2.6],[6.3,2.3],
[5.58,3.2],[5.76,3.4],[5.93,3.1],[6.09,3.5],[6.26,3.2],
[5.62,4.1],[5.8,4.3],[5.97,4.0],[6.15,4.4],[6.33,4.1],
[5.58,5.0],[5.78,5.2],[6.0,5.0],[6.2,5.3],
[5.66,5.9],[5.92,6.1],[6.18,6.2],[5.6,6.9],[6.05,7.2],[5.8,7.8],
[5.7,-7.0],[6.05,-6.9],[5.65,-6.2],[5.85,-6.0],[6.1,-6.1],[6.3,-6.2],[5.8,-5.3],[6.2,-5.2],[5.6,-4.5],[5.9,-4.4],[6.25,-4.4],[5.7,-3.4],[6.0,-3.6],[6.35,-3.3],[5.68,-2.6],[6.0,-2.5],[6.3,-2.5],[5.58,-1.7],[5.92,-1.7],[6.25,-1.6],[5.72,-0.9],[6.08,-0.7],[6.38,-0.8],[5.65,0.0],[5.95,-0.1],[6.3,0.1],[5.7,1.0],[6.0,1.0],[6.35,1.1],[5.6,1.9],[5.92,2.0],[6.22,2.0],[5.7,2.8],[6.02,2.9],[6.36,2.8],[5.65,3.7],[5.98,3.6],[6.22,3.8],[5.7,4.7],[6.08,4.8],[5.9,5.6],
[5.6,-6.9],[5.92,-6.85],[6.2,-6.95],[5.68,-5.8],[5.98,-5.75],[6.3,-5.85],[5.7,-4.7],[6.02,-4.65],[6.38,-4.75],[5.6,-3.6],[5.88,-3.55],[6.18,-3.65],[5.58,-2.5],[5.86,-2.45],[6.15,-2.55],[5.75,-1.4],[6.08,-1.35],[6.38,-1.45],[5.6,-0.3],[5.82,-0.25],[6.12,-0.35],[5.58,0.8],[5.88,0.85],[6.2,0.75],[5.68,1.9],[6.0,1.95],[6.35,1.85],[5.6,3.0],[5.88,3.05],[6.18,2.95],[5.68,4.1],[6.05,4.15],[6.25,4.05],[5.65,5.2],[5.95,5.25],
[6.55,-6.1],[6.62,-5.3],[6.7,-4.4],[6.58,-3.9],[6.66,-3.0],[6.52,-2.4],[6.72,-1.8],[6.6,-1.1],[6.68,-0.3],[6.55,0.3],[6.74,0.9],[6.62,1.6],[6.7,2.2],[6.58,2.9],[6.66,3.6],[6.53,4.3],[6.72,5.0],[6.6,5.7],[6.68,6.4],[6.76,-2.7],[6.64,-4.8],[6.5,1.2],[6.78,3.0],[6.56,-0.6],
[4.45,6.6],[4.55,7.0],[4.68,6.8],[4.8,7.4],[4.95,6.7],[5.1,7.1],[5.3,6.9],[5.45,7.3],[4.6,7.9],[4.85,8.2],[5.05,8.0],[5.35,7.9],[4.5,9.2],[4.56,9.0],[4.7,8.8],[4.82,8.5],[5.25,8.9],[5.45,8.7],[4.42,10.7],[5.27,10.7],[5.33,11.1],[4.5,9.6],[5.5,9.2],[5.95,9.5],[6.15,9.8],[5.97,10.0],[6.62,9.1],[6.3,7.6],[6.6,7.8]
];

// linear fits with confidence bands
const earlyMetFitX = [1.46, 1.9, 2.25, 2.74];
const earlyMetFitY = [-1.27, -0.89, -0.59, -0.16];
const earlyMetBandLo = [-1.77, -1.11, -0.74, -0.46];
const earlyMetBandHi = [-0.77, -0.67, -0.44, 0.14];
const earlyLitFitX = [4.46, 5.2, 6.0, 6.69];
const earlyLitFitY = [-0.46, -0.6, -0.76, -0.89];
const earlyLitBandLo = [-0.68, -0.74, -1.01, -1.34];
const earlyLitBandHi = [-0.24, -0.46, -0.51, -0.44];
const lateMetFitX = [1.46, 1.9, 2.3, 2.73];
const lateMetFitY = [-1.03, -0.66, -0.32, 0.05];
const lateMetBandLo = [-1.5, -0.86, -0.44, -0.17];
const lateMetBandHi = [-0.56, -0.46, -0.2, 0.27];
const lateLitFitX = [4.47, 5.2, 6.0, 6.68];
const lateLitFitY = [0.0, -0.12, -0.24, -0.35];
const lateLitBandLo = [-0.15, -0.22, -0.41, -0.65];
const lateLitBandHi = [0.15, -0.02, -0.07, -0.05];

// bar means and error bar ends, rows = conditions, columns = hemispheres
const earlyMean = [[-0.73, -0.65], [-0.835, -0.585], [-0.43, -0.565]];
const earlyLow = [[-0.935, -0.86], [-1.045, -0.805], [-0.643, -0.77]];
const earlyHigh = [[-0.53, -0.445], [-0.627, -0.367], [-0.223, -0.355]];
const lateMean = [[-0.306, -0.212], [-0.383, -0.01], [0.117, -0.199]];
const lateLow = [[-0.542, -0.443], [-0.623, -0.256], [-0.119, -0.431]];
const lateHigh = [[-0.07, 0.016], [-0.143, 0.234], [0.353, 0.033]];

// significance marks
const topStarX = [2.18, 2.15];
const topStarY = [-16.7, -16.7];
const topStars = ['*', '**'];
const earlyBrackets = [[0.7, 1.33, -1.33, -1.21], [1.0, 1.33, -1.24, -1.21]];
const lateBrackets = [[0.7, 1.345, -1.33, -1.21], [1.0, 1.345, -1.24, -1.21]];
const earlyStarX = [1.0, 1.17];
const lateStarX = [1.008, 1.166];
const bracketStarY = [-1.355, -1.28];
const earlyStars = ['*', '(*)'];
const lateStars = ['**', '(**)'];

const BAR_W = 0.3;
const CAP_W = 0.1;

const chart = echarts.init(document.getElementById('chart'), null, { renderer: 'svg' });

function minusFmt(d) {
  return v => (v < 0 ? '\u2212' : '') + Math.abs(v).toFixed(d);
}

function mainAxis(grid, min, max, ticks, fmt, o) {
  return {
    type: 'value', gridIndex: grid, min: min, max: max, inverse: !!o.inverse,
    axisLine: { show: false, onZero: false },
    axisTick: { show: true, customValues: ticks, length: 4, lineStyle: { color: '#333', width: 1 } },
    axisLabel: { customValues: ticks, formatter: fmt, fontSize: o.labelSize, lineHeight: o.labelLH,
      color: '#4d4d4d', margin: o.margin, fontFamily: FONT },
    splitLine: { show: true, lineStyle: { color: '#fff', width: 1.2 } },
    name: o.name || '', nameLocation: 'middle', nameGap: o.gap || 0, nameMoveOverlap: false,
    nameRotate: o.rotate, nameTextStyle: { fontSize: o.nameSize || 22, lineHeight: o.nameLH, color: '#000', fontFamily: FONT }
  };
}

function minorAxis(grid, min, max, ticks, inverse) {
  return {
    type: 'value', gridIndex: grid, min: min, max: max, inverse: !!inverse,
    axisLine: { show: false, onZero: false },
    axisTick: { show: false, customValues: ticks },
    axisLabel: { show: false, customValues: ticks },
    splitLine: { show: true, lineStyle: { color: '#fff', width: 0.6 } }
  };
}

const hemiFmt = v => hemispheres[hemiPos.indexOf(Math.round(v))];
const CX = [1.21, 6.95];
const PY = [-19.22, 19.22];
const BY = [-1.49, 0.49];

const topX = { labelSize: 18, labelLH: 13, margin: 6.5, name: 'Concreteness', gap: 17.2, nameSize: 24, nameLH: 15 };
const botX = { labelSize: 17.5, labelLH: 13, margin: 6.2, name: 'Hemisphere', gap: 23.5, nameSize: 23, nameLH: 15 };
const topY = { labelSize: 18, margin: 6, inverse: true };
const botY = { labelSize: 17.5, margin: 6, inverse: true };

const xAxis = [
  mainAxis(0, CX[0], CX[1], concreteTicks, v => String(v), topX),
  minorAxis(0, CX[0], CX[1], concreteMinor),
  mainAxis(1, CX[0], CX[1], concreteTicks, v => String(v), topX),
  minorAxis(1, CX[0], CX[1], concreteMinor),
  mainAxis(2, 0.4, 2.6, hemiPos, hemiFmt, botX),
  mainAxis(3, 0.4, 2.6, hemiPos, hemiFmt, botX)
];
const yAxis = [
  mainAxis(0, PY[0], PY[1], potentialTicks, minusFmt(0),
    Object.assign({ name: 'Potential (\u03bcV)', gap: 56.4, nameSize: 23.5, nameLH: 24, rotate: 90 }, topY)),
  minorAxis(0, PY[0], PY[1], potentialMinor, true),
  mainAxis(1, PY[0], PY[1], potentialTicks, minusFmt(0), topY),
  minorAxis(1, PY[0], PY[1], potentialMinor, true),
  mainAxis(2, BY[0], BY[1], barTicks, minusFmt(1),
    Object.assign({ name: 'Potential (\u03bcV)', gap: 52.7, nameSize: 23, nameLH: 24, rotate: 90 }, botY)),
  minorAxis(2, BY[0], BY[1], barMinor, true),
  mainAxis(3, BY[0], BY[1], barTicks, minusFmt(1), botY),
  minorAxis(3, BY[0], BY[1], barMinor, true)
];

function gridAt(left, top, width, height) {
  return { left: left, top: top, width: width, height: height, show: true, backgroundColor: '#ebebeb',
    borderWidth: 0, containLabel: false, outerBoundsMode: 'none' };
}

function pointSeries(xi, yi, pts) {
  return { type: 'scatter', xAxisIndex: xi, yAxisIndex: yi, data: pts, symbolSize: 4.7,
    itemStyle: { color: '#000' }, silent: true, z: 2, animation: false };
}

function bandSeries(xi, yi, fx, lo, hi, fill) {
  return {
    type: 'custom', xAxisIndex: xi, yAxisIndex: yi, silent: true, z: 3, data: [[fx[0], lo[0]]],
    renderItem: (params, api) => {
      const upper = fx.map((x, i) => api.coord([x, lo[i]]));
      const lower = fx.map((x, i) => api.coord([x, hi[i]])).reverse();
      return { type: 'polygon', shape: { points: upper.concat(lower) }, style: { fill: fill } };
    }
  };
}

function fitSeries(xi, yi, fx, fy) {
  return { type: 'line', xAxisIndex: xi, yAxisIndex: yi, silent: true, z: 4, showSymbol: false,
    data: fx.map((x, i) => [x, fy[i]]), lineStyle: { color: '#3366FF', width: 2 }, animation: false };
}

function textSeries(xi, yi, xs, ys, labels, size) {
  return {
    type: 'custom', xAxisIndex: xi, yAxisIndex: yi, silent: true, z: 6,
    data: xs.map((x, i) => [x, ys[i]]),
    renderItem: (params, api) => {
      const c = api.coord([api.value(0), api.value(1)]);
      return { type: 'text', x: c[0], y: c[1], style: { text: labels[params.dataIndex], fontSize: size,
        fontFamily: FONT, fill: '#222', align: 'center', verticalAlign: 'middle' } };
    }
  };
}

function barSeries(ci, xi, yi, means, lows, highs) {
  return {
    type: 'custom', name: conditions[ci], xAxisIndex: xi, yAxisIndex: yi, z: 2,
    itemStyle: { color: barColors[ci] },
    data: means[ci].map((m, h) => [hemiPos[h], m, lows[ci][h], highs[ci][h]]),
    renderItem: (params, api) => {
      const cx = api.value(0) + (ci - 1) * BAR_W;
      const m = api.value(1);
      const a = api.coord([cx - BAR_W / 2, 0]);
      const b = api.coord([cx + BAR_W / 2, m]);
      const t = api.coord([cx, api.value(2)]);
      const u = api.coord([cx, api.value(3)]);
      const l = api.coord([cx - CAP_W / 2, 0])[0];
      const r = api.coord([cx + CAP_W / 2, 0])[0];
      const line = (x1, y1, x2, y2) => ({ type: 'line', shape: { x1: x1, y1: y1, x2: x2, y2: y2 },
        style: { stroke: '#1a1a1a', lineWidth: 1 } });
      return { type: 'group', children: [
        { type: 'rect', shape: { x: a[0], y: Math.min(a[1], b[1]), width: b[0] - a[0],
          height: Math.max(Math.abs(b[1] - a[1]), 1.5) }, style: { fill: barColors[ci] } },
        line(t[0], t[1], u[0], u[1]),
        line(l, t[1], r, t[1]),
        line(l, u[1], r, u[1])
      ] };
    }
  };
}

function bracketSeries(xi, yi, rows) {
  return {
    type: 'custom', xAxisIndex: xi, yAxisIndex: yi, silent: true, z: 5, data: rows,
    renderItem: (params, api) => {
      const x0 = api.value(0), x1 = api.value(1), top = api.value(2), leg = api.value(3);
      const pts = [[x0, leg], [x0, top], [x1, top], [x1, leg]].map(d => api.coord(d));
      return { type: 'polyline', shape: { points: pts }, style: { stroke: '#000', lineWidth: 1.6, fill: null } };
    }
  };
}

const titleStyle = { fontSize: 23, lineHeight: 27.6, fontWeight: 'normal', color: '#000', fontFamily: FONT };
const subTitleStyle = { fontSize: 22.5, lineHeight: 27.6, fontWeight: 'normal', color: '#000', fontFamily: FONT };

const legendGraphic = [];
const fitFills = ['#F5C1BE', '#93DEDE'];
fitLegend.forEach((name, i) => {
  const cy = 271.7 + i * 26.6;
  legendGraphic.push(
    { type: 'rect', shape: { x: 579, y: cy - 8.3, width: 13.3, height: 16.6 }, style: { fill: fitFills[i] } },
    { type: 'line', shape: { x1: 579.5, y1: cy, x2: 591.8, y2: cy }, style: { stroke: '#3366FF', lineWidth: 1.6 } },
    { type: 'circle', shape: { cx: 585.6, cy: cy, r: 1.6 }, style: { fill: '#1d3c9c' } },
    { type: 'text', x: 601.7, y: cy, style: { text: name, fontSize: 22.5, fontFamily: FONT, fill: '#000', verticalAlign: 'middle' } }
  );
});

chart.setOption({
  animation: false,
  textStyle: { fontFamily: FONT },
  title: [
    { text: topTitles[0], left: 187, top: 6.9, textAlign: 'center', padding: 0, textStyle: titleStyle },
    { text: topTitles[1], left: 467, top: 6.9, textAlign: 'center', padding: 0, textStyle: titleStyle },
    { text: bottomTitles[0], left: 189, top: 526.2, textAlign: 'center', padding: 0, textStyle: subTitleStyle },
    { text: bottomTitles[1], left: 475, top: 526.2, textAlign: 'center', padding: 0, textStyle: subTitleStyle }
  ],
  grid: [
    gridAt(91.7, 120, 194.3, 333.3),
    gridAt(368.3, 120, 193.7, 333.3),
    gridAt(88, 556.7, 198, 332.3),
    gridAt(367, 556.7, 199, 332.3)
  ],
  xAxis: xAxis,
  yAxis: yAxis,
  legend: {
    data: conditions, orient: 'vertical', left: 578, top: 681.3, padding: 0,
    itemWidth: 13.3, itemHeight: 13.3, itemGap: 5.5, icon: 'rect', selectedMode: false,
    textStyle: { fontSize: 22.5, lineHeight: 22, color: '#000', fontFamily: FONT, padding: [0, 0, 0, 5] }
  },
  graphic: legendGraphic,
  series: [
    pointSeries(0, 0, earlyMetPts),
    pointSeries(0, 0, earlyLitPts),
    pointSeries(2, 2, lateMetPts),
    pointSeries(2, 2, lateLitPts),
    bandSeries(0, 0, earlyMetFitX, earlyMetBandLo, earlyMetBandHi, 'rgba(248,118,109,0.45)'),
    bandSeries(0, 0, earlyLitFitX, earlyLitBandLo, earlyLitBandHi, 'rgba(0,191,196,0.45)'),
    bandSeries(2, 2, lateMetFitX, lateMetBandLo, lateMetBandHi, 'rgba(248,118,109,0.45)'),
    bandSeries(2, 2, lateLitFitX, lateLitBandLo, lateLitBandHi, 'rgba(0,191,196,0.45)'),
    fitSeries(0, 0, earlyMetFitX, earlyMetFitY),
    fitSeries(0, 0, earlyLitFitX, earlyLitFitY),
    fitSeries(2, 2, lateMetFitX, lateMetFitY),
    fitSeries(2, 2, lateLitFitX, lateLitFitY),
    textSeries(0, 0, [topStarX[0]], [topStarY[0]], [topStars[0]], 15),
    textSeries(2, 2, [topStarX[1]], [topStarY[1]], [topStars[1]], 15),
    barSeries(0, 4, 4, earlyMean, earlyLow, earlyHigh),
    barSeries(1, 4, 4, earlyMean, earlyLow, earlyHigh),
    barSeries(2, 4, 4, earlyMean, earlyLow, earlyHigh),
    barSeries(0, 5, 6, lateMean, lateLow, lateHigh),
    barSeries(1, 5, 6, lateMean, lateLow, lateHigh),
    barSeries(2, 5, 6, lateMean, lateLow, lateHigh),
    bracketSeries(4, 4, earlyBrackets),
    bracketSeries(5, 6, lateBrackets),
    textSeries(4, 4, earlyStarX, bracketStarY, earlyStars, 14),
    textSeries(5, 6, lateStarX, bracketStarY, lateStars, 15)
  ]
});
</script>
</body>
</html>
